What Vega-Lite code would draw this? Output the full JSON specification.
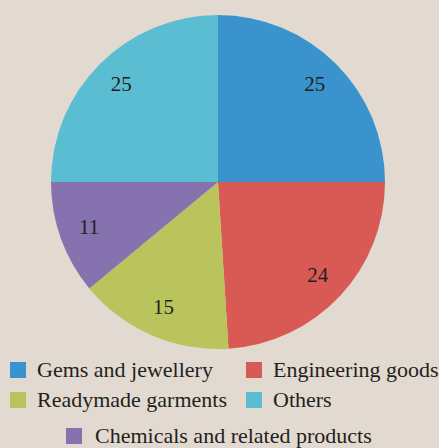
{
  "$schema": "https://vega.github.io/schema/vega-lite/v6.json",
  "width": 436,
  "height": 364,
  "padding": {"left": 0, "top": 0, "right": 3, "bottom": 84},
  "autosize": {"type": "none"},
  "background": "#e2d9d0",
  "config": {"view": {"stroke": null}},
  "data": {"values": [
    {"category": "Gems and jewellery", "value": 25, "order": 1},
    {"category": "Engineering goods", "value": 24, "order": 2},
    {"category": "Readymade garments", "value": 15, "order": 3},
    {"category": "Chemicals and related products", "value": 11, "order": 4},
    {"category": "Others", "value": 25, "order": 5}
  ]},
  "encoding": {
    "theta": {"field": "value", "type": "quantitative", "stack": true},
    "order": {"field": "order", "type": "quantitative"}
  },
  "layer": [
    {
      "mark": {"type": "arc", "outerRadius": 167},
      "encoding": {
        "color": {
          "field": "category", "type": "nominal",
          "scale": {
            "domain": ["Gems and jewellery", "Engineering goods", "Readymade garments", "Others", "Chemicals and related products"],
            "range": ["#3a93cc", "#d95a55", "#b9c45c", "#5bbdd1", "#8772b0"]
          },
          "legend": {
            "title": null,
            "orient": "none",
            "direction": "horizontal",
            "legendX": 7,
            "legendY": 359,
            "columns": 2,
            "columnPadding": 16,
            "rowPadding": 8,
            "padding": 0,
            "values": ["Gems and jewellery", "Engineering goods", "Readymade garments", "Others"],
            "symbolType": "square",
            "symbolSize": 256,
            "symbolStrokeWidth": 0,
            "symbolOpacity": 1,
            "labelFont": "Liberation Serif",
            "labelFontSize": 22,
            "labelColor": "#231f20",
            "labelOffset": 8,
            "labelLimit": 400
          }
        }
      }
    },
    {
      "transform": [{"filter": "datum.category === 'Chemicals and related products'"}],
      "mark": {"type": "arc", "outerRadius": 1, "opacity": 0},
      "encoding": {
        "fill": {
          "field": "category", "type": "nominal",
          "scale": {"domain": ["Chemicals and related products"], "range": ["#8772b0"]},
          "legend": {
            "title": null,
            "orient": "none",
            "legendX": 63,
            "legendY": 425,
            "padding": 0,
            "symbolType": "square",
            "symbolSize": 256,
            "symbolStrokeWidth": 0,
            "symbolOpacity": 1,
            "labelFont": "Liberation Serif",
            "labelFontSize": 22,
            "labelColor": "#231f20",
            "labelOffset": 10,
            "labelLimit": 400
          }
        }
      }
    },
    {
      "mark": {"type": "text", "radius": 137, "font": "Liberation Serif", "fontSize": 21, "color": "#231f20"},
      "encoding": {
        "text": {"field": "value", "type": "quantitative"}
      }
    }
  ]
}
